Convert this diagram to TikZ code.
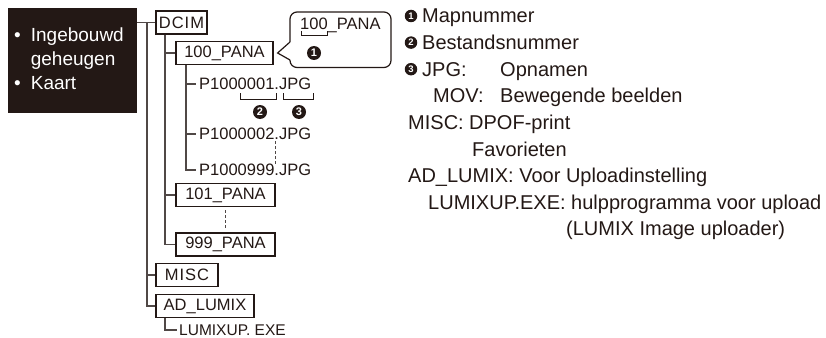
\documentclass[tikz,border=0pt]{standalone}
\usepackage{fontspec}
\setmainfont{Liberation Sans}
\definecolor{ink}{RGB}{35,24,21}
\definecolor{linec}{RGB}{80,72,70}
\begin{document}
\begin{tikzpicture}[x=1pt,y=-1pt,
  fold/.style={draw=ink, line width=1.2pt, inner sep=0pt, text=ink,
    font=\fontsize{16.5}{18}\selectfont, minimum height=23pt},
  tree/.style={draw=linec, line width=1.3pt},
  fname/.style={anchor=west, inner sep=0pt, text=ink, font=\fontsize{16.5}{18}\selectfont},
  desc/.style={anchor=base west, inner sep=0pt, text=ink, font=\fontsize{20}{22}\selectfont},
  num/.style={circle, fill=ink, text=white, inner sep=0pt, minimum size=14pt,
    font=\fontsize{11}{11}\selectfont\bfseries},
  knum/.style={num, minimum size=12.5pt, font=\fontsize{9.5}{9.5}\selectfont\bfseries},
  brk/.style={draw=ink, line width=1pt},
  dsh/.style={draw=linec, line width=1pt, dash pattern=on 3pt off 2pt}]
\useasboundingbox (0,0) rectangle (826,337);

% storage box
\node[fill=ink, minimum width=129pt, minimum height=105pt, inner sep=0pt] (mem) at (72.5,60.5) {};
\node[anchor=west, inner sep=0pt, text=white, font=\fontsize{19}{24}\selectfont] (memtext) at (14,61)
  {\begin{tabular}{@{}l@{\hspace{10pt}}l@{}}\textbullet & Ingebouwd\\ & geheugen\\ \textbullet & Kaart\end{tabular}};

% folders
\node[fold, minimum width=51pt, font=\fontsize{16.5}{18}\selectfont\addfontfeature{LetterSpace=6}] (dcim) at (181.5,22.5) {DCIM};
\node[fold, minimum width=97pt] (p100) at (224.5,53) {100\_PANA};
\node[fold, minimum width=99pt] (p101) at (225.5,195) {101\_PANA};
\node[fold, minimum width=99pt] (p999) at (225.5,244.5) {999\_PANA};
\node[fold, minimum width=62pt, font=\fontsize{16.5}{18}\selectfont\addfontfeature{LetterSpace=6}] (misc) at (187,275) {MISC};
\node[fold, minimum width=98pt] (adl) at (205,306) {AD\_LUMIX};

% files
\node[fname] (f1) at (199,84) {P1000001.JPG};
\node[fname] (f2) at (199,134) {P1000002.JPG};
\node[fname] (f9) at (199,170) {P1000999.JPG};
\node[fname, font=\fontsize{15.5}{17}\selectfont] (lux) at (179,330) {LUMIXUP. EXE};

% tree lines
\coordinate (rx) at (147,0);
\coordinate (l2) at (165,0);
\coordinate (l3) at (186,0);
\draw[tree] (mem.east |- dcim.west) -- (dcim.west);
\draw[tree] (rx |- dcim.west) -- (rx |- adl.west) -- (adl.west);
\draw[tree] (rx |- misc.west) -- (misc.west);
\draw[tree] (l2 |- dcim.south) -- (l2 |- p999.west) -- (p999.west);
\draw[tree] (l2 |- p100.west) -- (p100.west);
\draw[tree] (l2 |- p101.west) -- (p101.west);
\draw[tree] (l3 |- p100.south) -- (l3 |- f9.west) -- ([xshift=-3pt]f9.west);
\draw[tree] (l3 |- f1.west) -- ([xshift=-3pt]f1.west);
\draw[tree] (l3 |- f2.west) -- ([xshift=-3pt]f2.west);
\draw[tree] (l2 |- adl.south) -- (l2 |- lux.west) -- ([xshift=-2pt]lux.west);
\draw[dsh] (275,141) -- (275,165);
\draw[dsh] ([yshift=-3pt]p101.south) -- ([yshift=3pt]p999.north);

% callout
\coordinate (tip) at ([xshift=4pt]p100.east);
\draw[draw=ink, line width=1.2pt, rounded corners=7pt] (290,42) -- (290,12) -- (391,12) -- (391,67.5) -- (290,67.5) -- (290,60);
\draw[draw=ink, line width=1.2pt, line join=miter] (290,42) -- (tip) -- (290,60);
\node[fname] (cpana) at (300,25) {100\_PANA};
\draw[brk] (301,31) -- (301,36) -- (327,36) -- (327,31);
\node[num] (n1) at (314,53) {1};

% brackets under file name
\draw[brk] (240,93) -- (240,99) -- (276,99) -- (276,93);
\draw[brk] (283,93) -- (283,99) -- (313,99) -- (313,93);
\node[num] (n2) at (260,112) {2};
\node[num] (n3) at (299,112) {3};

% legend
\node[knum] (k1) at (411,16) {1};
\node[desc] (d1) at (422,23) {Mapnummer};
\node[knum] (k2) at (411,42.6) {2};
\node[desc] (d2) at (422,49.6) {Bestandsnummer};
\node[knum] (k3) at (411,69.2) {3};
\node[desc] (d3) at (422,76.2) {JPG:};
\node[desc] (d3b) at (500,76.2) {Opnamen};
\node[desc] (d4) at (433,102.8) {MOV:};
\node[desc] (d4b) at (500,102.8) {Bewegende beelden};
\node[desc] (d5) at (408,129.4) {MISC:};
\node[desc] (d5b) at (469,129.4) {DPOF-print};
\node[desc] (d6) at (472,156) {Favorieten};
\node[desc] (d7) at (408,182.6) {AD\_LUMIX: Voor Uploadinstelling};
\node[desc] (d8) at (428,209.2) {LUMIXUP.EXE: hulpprogramma voor upload};
\node[desc] (d9) at (566,235.8) {(LUMIX Image uploader)};
\end{tikzpicture}
\end{document}
